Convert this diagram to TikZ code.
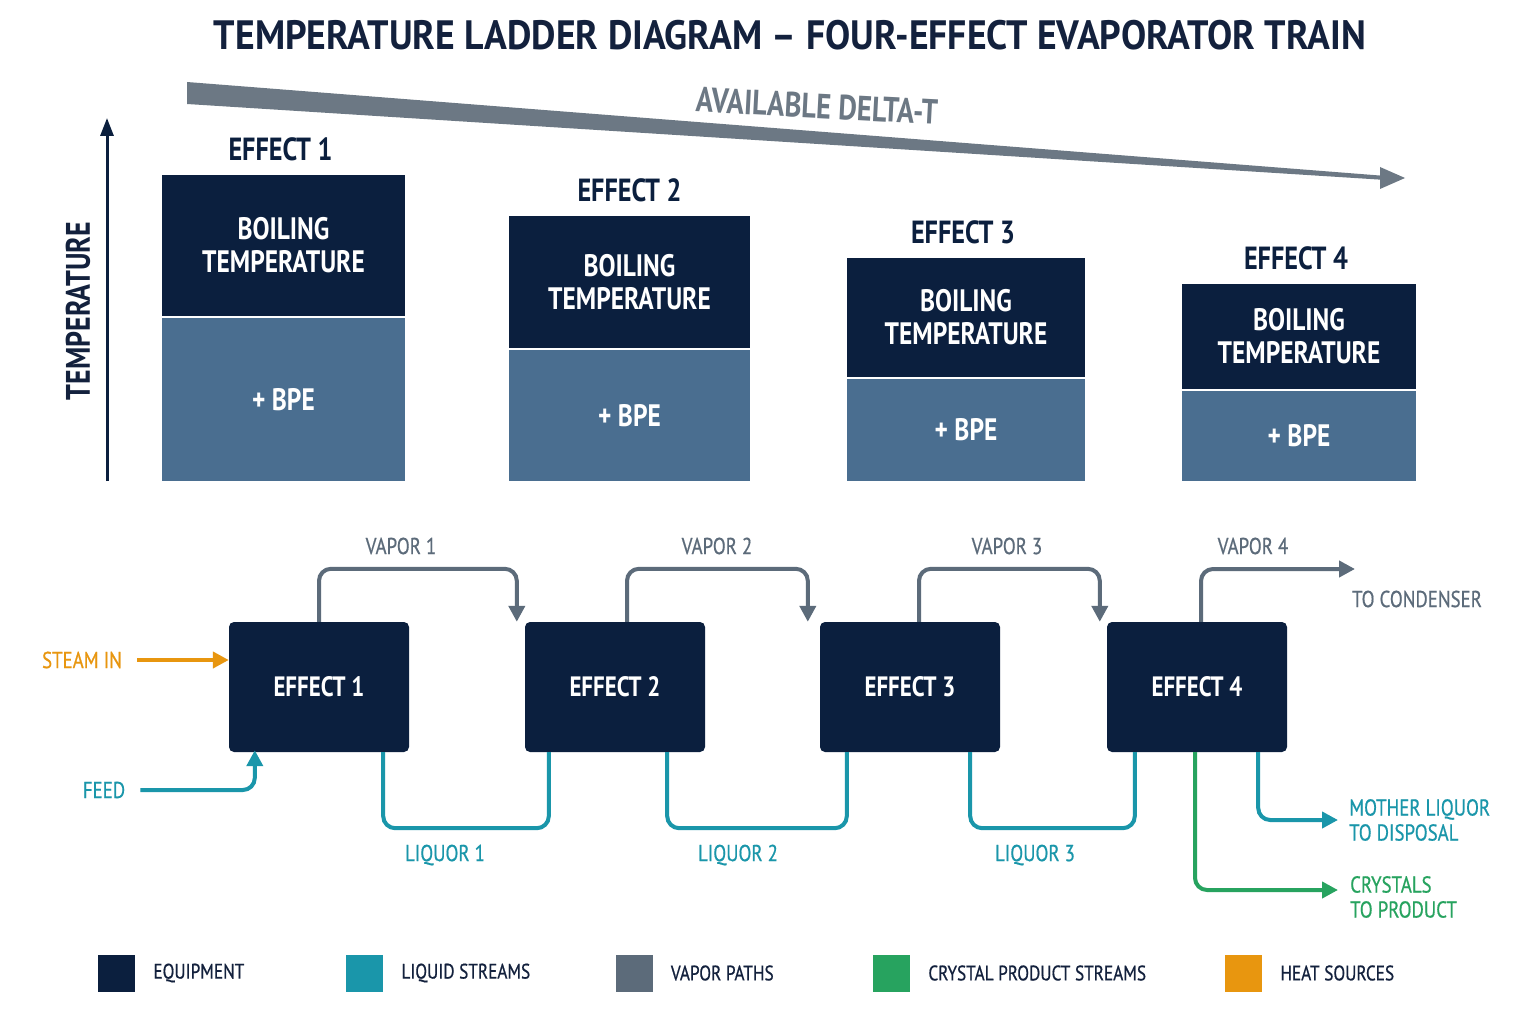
\documentclass[tikz,border=0pt]{standalone}
\usepackage{fontspec}
\setmainfont[FakeStretch=0.82]{PT Sans}
\newfontfamily\titlefont[FakeStretch=0.92]{PT Sans}
\newfontfamily\midfont[FakeStretch=0.82,FakeBold=0.6]{PT Sans}
\usetikzlibrary{positioning,arrows.meta}

\definecolor{navy}{HTML}{0B1F3E}
\definecolor{steel}{HTML}{4A6E90}
\definecolor{liquid}{HTML}{1A96AA}
\definecolor{vapor}{HTML}{5C6B7A}
\definecolor{crystal}{HTML}{27A35F}
\definecolor{heat}{HTML}{E8960F}
\definecolor{wedge}{HTML}{6C7884}
\definecolor{ink}{HTML}{13213D}

\tikzset{
  boil/.style={rectangle,fill=navy,text=white,inner sep=0,outer sep=0,align=center,font=\bfseries\fontsize{31}{33}\selectfont},
  bpe/.style={rectangle,fill=steel,text=white,inner sep=0,outer sep=0,font=\bfseries\fontsize{31}{33}\selectfont},
  efftag/.style={inner sep=0,text=navy,font=\bfseries\fontsize{32}{34}\selectfont},
  unit/.style={rectangle,rounded corners=5,fill=navy,text=white,minimum width=180,minimum height=130,inner sep=0,font=\bfseries\fontsize{28}{30}\selectfont},
  lbl/.style={inner sep=0,font=\midfont\fontsize{23}{25}\selectfont},
  flow/.style={line width=4,rounded corners=12},
  tip/.style={-{Triangle[length=16,width=16]}},
  swatch/.style={rectangle,minimum size=37,inner sep=0},
  key/.style={inner sep=0,text=ink,font=\midfont\fontsize{21}{23}\selectfont}
}

\begin{document}
\begin{tikzpicture}[x=1pt,y=-1pt]
\useasboundingbox (0,0) rectangle (1536,1024);
\fill[white] (0,0) rectangle (1536,1024);

% title
\node[inner sep=0,text=ink,font=\titlefont\bfseries\fontsize{41}{44}\selectfont] (title) at (790,35) {TEMPERATURE LADDER DIAGRAM \textendash{} FOUR-EFFECT EVAPORATOR TRAIN};

% available delta-T wedge
\fill[wedge] (187,82) -- (1386,176) -- (1386,180) -- (187,104) -- cycle;
\fill[wedge] (1380,167) -- (1405,178) -- (1380,189) -- cycle;
\node[inner sep=0,rotate=-3,text=wedge,font=\bfseries\fontsize{35}{37}\selectfont] (dt) at (817,106) {AVAILABLE DELTA-T};

% temperature axis
\coordinate (t0) at (107,481);
\coordinate (t1) at (107,118);
\draw[navy,line width=3,-{Triangle[length=18,width=13]}] (t0) -- (t1);
\node[inner sep=0,rotate=90,text=ink,font=\bfseries\fontsize{34}{36}\selectfont] (tl) at (78,311) {TEMPERATURE};

% ladder
\node[boil,minimum width=243,minimum height=141] (d1) at (283.5,245.5) {BOILING\\TEMPERATURE};
\node[bpe,minimum width=243,minimum height=163] (b1) at (283.5,399.5) {+ BPE};
\node[boil,minimum width=241,minimum height=132] (d2) at (629.5,282) {BOILING\\TEMPERATURE};
\node[bpe,minimum width=241,minimum height=131] (b2) at (629.5,415.5) {+ BPE};
\node[boil,minimum width=238,minimum height=119] (d3) at (966,317.5) {BOILING\\TEMPERATURE};
\node[bpe,minimum width=238,minimum height=102] (b3) at (966,430) {+ BPE};
\node[boil,minimum width=234,minimum height=105] (d4) at (1299,336.5) {BOILING\\TEMPERATURE};
\node[bpe,minimum width=234,minimum height=90] (b4) at (1299,436) {+ BPE};
\node[efftag,above=14pt of d1,xshift=-3pt] (h1) {EFFECT 1};
\node[efftag,above=14pt of d2] (h2) {EFFECT 2};
\node[efftag,above=14pt of d3,xshift=-3pt] (h3) {EFFECT 3};
\node[efftag,above=14pt of d4,xshift=-3pt] (h4) {EFFECT 4};

% evaporator train
\node[unit] (e1) at (319,687) {EFFECT 1};
\node[unit] (e2) at (615,687) {EFFECT 2};
\node[unit] (e3) at (910,687) {EFFECT 3};
\node[unit] (e4) at (1197,687) {EFFECT 4};

% vapor
\draw[flow,vapor,tip] (e1.north) -- ++(0,-53) -| ([xshift=-8]e2.north west);
\draw[flow,vapor,tip] ([xshift=12]e2.north) -- ++(0,-53) -| ([xshift=-12]e3.north west);
\draw[flow,vapor,tip] ([xshift=9]e3.north) -- ++(0,-53) -| ([xshift=-7]e4.north west);
\coordinate (cond) at (1355,569);
\draw[flow,vapor,tip] ([xshift=4]e4.north) |- (cond);
\node[lbl,text=vapor] (v1) at (401,546) {VAPOR 1};
\node[lbl,text=vapor] (v2) at (717,546) {VAPOR 2};
\node[lbl,text=vapor] (v3) at (1007,546) {VAPOR 3};
\node[lbl,text=vapor] (v4) at (1253,546) {VAPOR 4};
\node[lbl,text=vapor] (tc) at (1417,599) {TO CONDENSER};

% liquor
\draw[flow,liquid] ([xshift=-26]e1.south east) -- ++(0,76) -| ([xshift=24]e2.south west);
\draw[flow,liquid] ([xshift=-38]e2.south east) -- ++(0,76) -| ([xshift=27]e3.south west);
\draw[flow,liquid] ([xshift=-30]e3.south east) -- ++(0,76) -| ([xshift=28]e4.south west);
\node[lbl,text=liquid] (l1) at (445,855) {LIQUOR 1};
\node[lbl,text=liquid] (l2) at (738,855) {LIQUOR 2};
\node[lbl,text=liquid] (l3) at (1035,855) {LIQUOR 3};

% inlets
\node[lbl,text=heat] (steam) at (82,660) {STEAM IN};
\draw[line width=4,heat,tip] ([xshift=15]steam.east) -- (steam.east -| e1.west);
\node[lbl,text=liquid] (feed) at (104,790) {FEED};
\draw[flow,liquid,tip] ([xshift=15]feed.east) -| ([xshift=26,yshift=2]e1.south west);

% outlets
\coordinate (ml) at (1338,820);
\coordinate (cp) at (1338,890);
\draw[flow,liquid,tip] ([xshift=-29]e4.south east) |- (ml);
\draw[flow,crystal,tip] ([xshift=-2]e4.south) |- (cp);
\node[lbl,text=liquid,align=left,anchor=west] (mo) at (1349,820) {MOTHER LIQUOR\\TO DISPOSAL};
\node[lbl,text=crystal,align=left,anchor=west] (cr) at (1350,897) {CRYSTALS\\TO PRODUCT};

% legend
\node[swatch,fill=navy] (s1) at (116.5,973) {};
\node[swatch,fill=liquid] (s2) at (364.5,973) {};
\node[swatch,fill=vapor] (s3) at (634,973) {};
\node[swatch,fill=crystal] (s4) at (891.5,973) {};
\node[swatch,fill=heat] (s5) at (1243.5,973) {};
\node[key,right=18pt of s1] (k1) {EQUIPMENT};
\node[key,right=18pt of s2] (k2) {LIQUID STREAMS};
\node[key,right=18pt of s3] (k3) {VAPOR PATHS};
\node[key,right=18pt of s4] (k4) {CRYSTAL PRODUCT STREAMS};
\node[key,right=18pt of s5] (k5) {HEAT SOURCES};
\end{tikzpicture}
\end{document}
